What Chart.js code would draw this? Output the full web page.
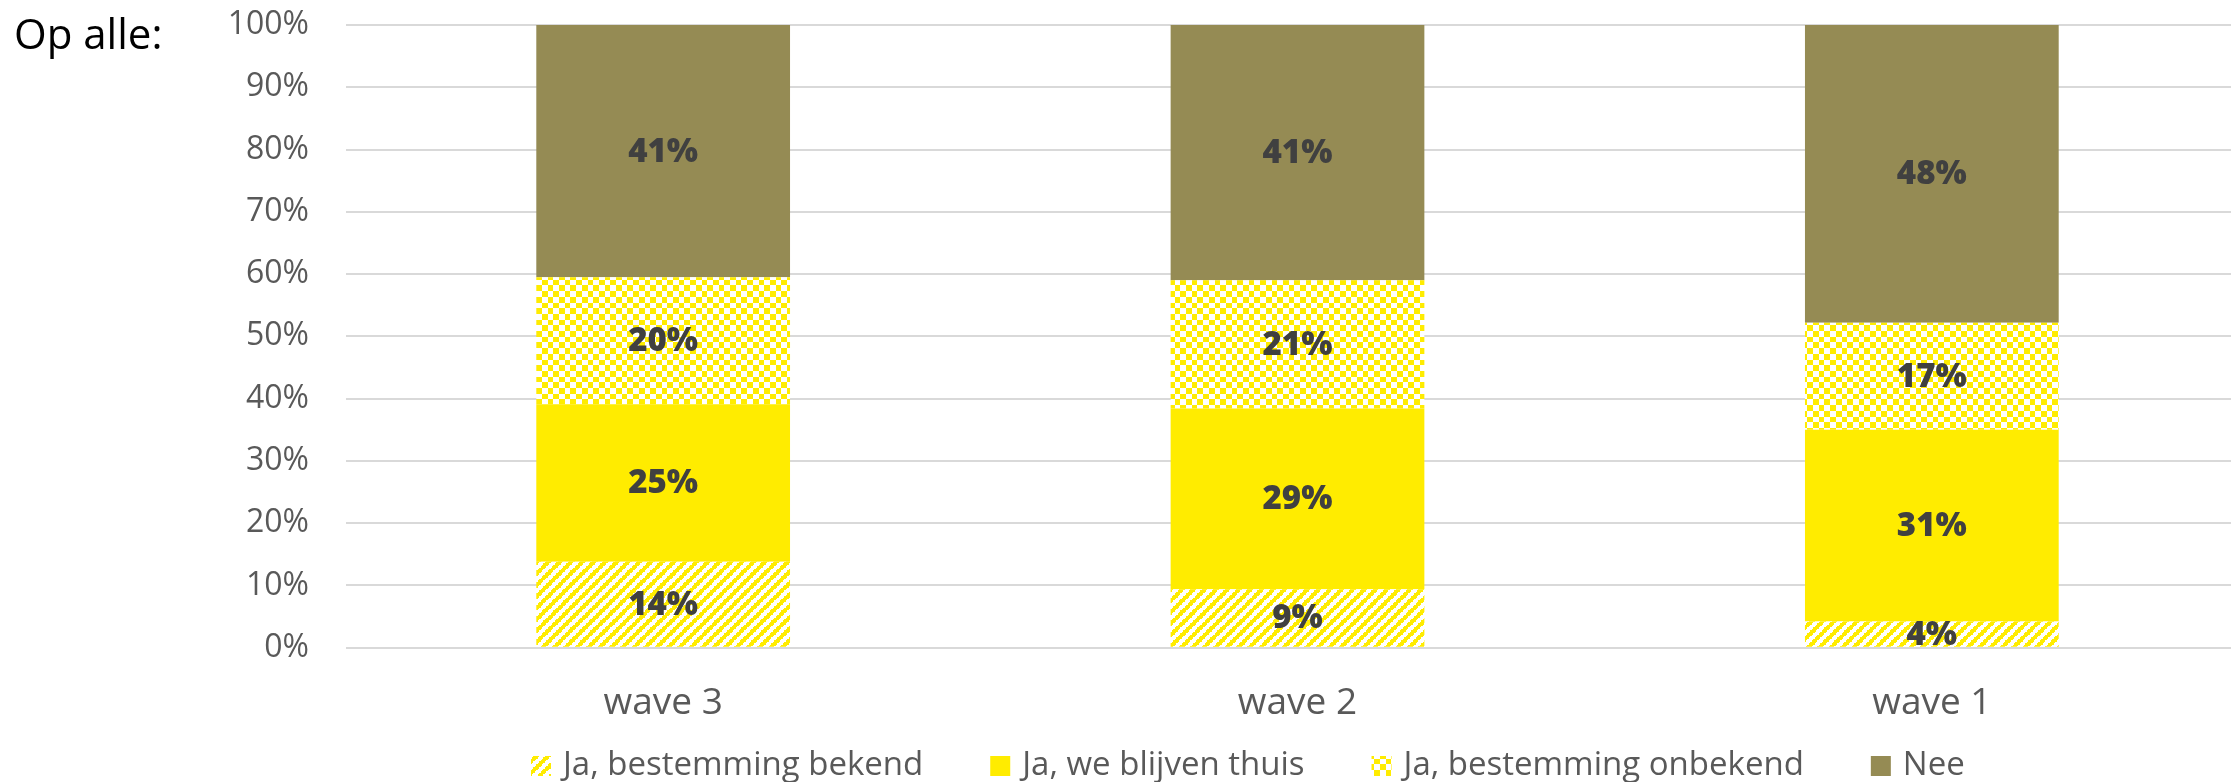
<!DOCTYPE html>
<html><head><meta charset="utf-8">
<script src="https://cdn.jsdelivr.net/npm/chart.js@4"></script>
<style>html,body{margin:0;padding:0;overflow:hidden;background:#fff}#wrap{width:2249px;height:782px;position:relative}</style>
</head><body><div id="wrap"><canvas id="c" width="2249" height="782"></canvas></div>
<script>
const categories = ['wave 3', 'wave 2', 'wave 1'];
const seriesNames = ['Ja, bestemming bekend', 'Ja, we blijven thuis', 'Ja, bestemming onbekend', 'Nee'];
const bekend = [13.8, 9.4, 4.2];
const thuis = [25.3, 29.0, 30.8];
const onbekend = [20.4, 20.6, 17.2];
const nee = [40.5, 41.0, 47.8];
const yTickValues = [0, 10, 20, 30, 40, 50, 60, 70, 80, 90, 100];
const yTickLabels = ['0%', '10%', '20%', '30%', '40%', '50%', '60%', '70%', '80%', '90%', '100%'];
const panelLabel = 'Op alle:';

const YELLOW = '#FFEC00';
const OLIVE = '#958B54';
const FONT = "'Open Sans', 'Noto Sans', sans-serif";

const canvas = document.getElementById('c');
const ctx = canvas.getContext('2d');

// 8x8 pattern bitmaps, scaled up ~1.42x (40 source px -> 57 output px)
function makeTile(fn) {
  const N = 57, S = 40;
  const t = document.createElement('canvas');
  t.width = N; t.height = N;
  const tc = t.getContext('2d');
  tc.fillStyle = '#ffffff';
  tc.fillRect(0, 0, N, N);
  tc.fillStyle = YELLOW;
  for (let y = 0; y < N; y++) for (let x = 0; x < N; x++) {
    const sx = Math.floor(x * S / N) % 8, sy = Math.floor(y * S / N) % 8;
    if (fn(sx, sy)) tc.fillRect(x, y, 1, 1);
  }
  return ctx.createPattern(t, 'repeat');
}
const hatchPattern = makeTile((x, y) => ((x + y) % 8) < 4);
const checkPattern = makeTile((x, y) => ((Math.floor(x / 4) + Math.floor(y / 4)) % 2) === 0);

const seriesValues = [bekend, thuis, onbekend, nee];
const seriesFills = [hatchPattern, YELLOW, checkPattern, OLIVE];

const datasets = seriesNames.map((name, i) => ({
  label: name,
  data: seriesValues[i],
  backgroundColor: seriesFills[i],
  borderWidth: 0,
  barPercentage: 0.4,
  categoryPercentage: 1.0
}));

const labelPlugin = {
  id: 'segLabels',
  afterDatasetsDraw(chart) {
    const c = chart.ctx;
    c.save();
    c.font = '800 33px ' + FONT;
    c.fillStyle = '#404040';
    c.textAlign = 'center';
    c.textBaseline = 'middle';
    chart.data.datasets.forEach((ds, di) => {
      const meta = chart.getDatasetMeta(di);
      meta.data.forEach((el, i) => {
        const v = ds.data[i];
        const y = (el.y + el.base) / 2;
        c.fillText(Math.round(v) + '%', el.x, y + 1);
      });
    });
    c.restore();
  }
};

const legendPlugin = {
  id: 'customLegend',
  afterDraw(chart) {
    const c = chart.ctx;
    c.save();
    c.font = '33px ' + FONT;
    c.textBaseline = 'middle';
    c.textAlign = 'left';
    let x = 531;
    const yMid = 766;
    const box = 20;
    chart.data.datasets.forEach((ds) => {
      c.fillStyle = ds.backgroundColor;
      c.fillRect(x, yMid - box / 2, box, box);
      c.fillStyle = '#595959';
      const tx = x + box + 12;
      c.fillText(ds.label, tx, yMid);
      x = tx + c.measureText(ds.label).width + 67;
    });
    c.font = '42px ' + FONT;
    c.fillStyle = '#000000';
    c.textBaseline = 'alphabetic';
    c.fillText(panelLabel, 14, 49);
    c.restore();
  }
};

new Chart(canvas, {
  type: 'bar',
  data: { labels: categories, datasets },
  options: {
    responsive: false,
    animation: false,
    devicePixelRatio: 1,
    layout: { padding: { top: 25, left: 0, right: 0, bottom: 0 } },
    plugins: { legend: { display: false }, tooltip: { enabled: false }, title: { display: false } },
    scales: {
      x: {
        stacked: true,
        grid: { display: false, drawTicks: false },
        border: { display: false },
        ticks: { font: { family: FONT, size: 37 }, color: '#595959', padding: 34 },
        afterFit(s) { s.height = 134.3; s.paddingLeft = 0; s.paddingRight = 0; }
      },
      y: {
        stacked: true,
        min: 0, max: 100,
        afterBuildTicks(s) { s.ticks = yTickValues.map(v => ({ value: v })); },
        ticks: {
          font: { family: FONT, size: 32 }, color: '#595959', padding: 37,
          callback(v) { return yTickLabels[yTickValues.indexOf(v)]; }
        },
        grid: { color: '#d9d9d9', lineWidth: 2, drawTicks: false },
        border: { display: false },
        afterFit(s) { s.width = 346; s.paddingTop = 0; s.paddingBottom = 0; }
      }
    }
  },
  plugins: [labelPlugin, legendPlugin]
});
</script>
</body></html>
